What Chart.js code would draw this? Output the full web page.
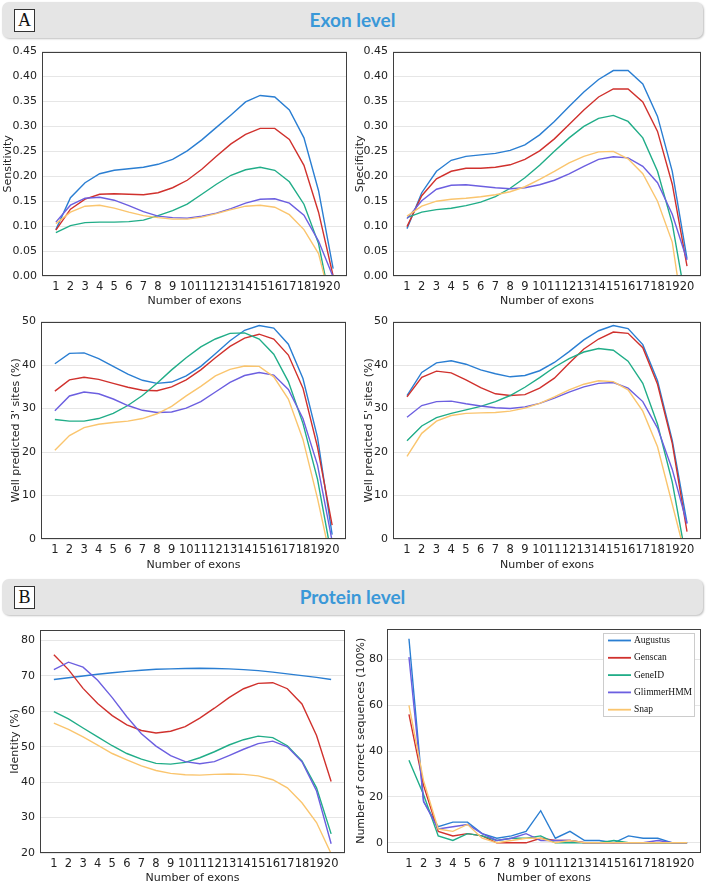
<!DOCTYPE html>
<html>
<head>
<meta charset="utf-8">
<script src="https://cdn.jsdelivr.net/npm/chart.js@4.4.1/dist/chart.umd.min.js"></script>
<style>
  html, body { margin: 0; padding: 0; background: #fff; }
  body { width: 709px; height: 886px; position: relative; overflow: hidden; }
  .banner { position: absolute; left: 2px; width: 701px; height: 36px; background: #e5e5e5;
            border-radius: 7px; box-shadow: 1px 1px 2px rgba(0,0,0,0.25); }
  .banner .tag { position: absolute; left: 12px; top: 7px; width: 19px; height: 21px; border: 1px solid #333;
                 background: #fff; font-family: 'Liberation Serif', serif; font-size: 18px; line-height: 21px;
                 text-align: center; color: #111; }
  .banner .title { position: absolute; left: 0; right: 0; top: 0; line-height: 36px; text-align: center;
                   font-family: Lato, sans-serif; font-weight: 700; font-size: 19px; color: #3a98d8; }
  canvas { position: absolute; }
</style>
</head>
<body>
<div class="banner" style="top:2px"><div class="tag">A</div><div class="title">Exon level</div></div>
<div class="banner" style="top:579px"><div class="tag">B</div><div class="title">Protein level</div></div>

<canvas id="sens" width="352" height="270" style="left:0;top:40px"></canvas>
<canvas id="spec" width="357" height="270" style="left:352px;top:40px"></canvas>
<canvas id="site3" width="352" height="265" style="left:0;top:310px"></canvas>
<canvas id="site5" width="357" height="265" style="left:352px;top:310px"></canvas>
<canvas id="ident" width="352" height="268" style="left:0;top:618px"></canvas>
<canvas id="correct" width="357" height="268" style="left:352px;top:618px"></canvas>

<script>
// ---- data ----
const exonCounts = [1,2,3,4,5,6,7,8,9,10,11,12,13,14,15,16,17,18,19,20];
const toolNames = ['Augustus', 'Genscan', 'GeneID', 'GlimmerHMM', 'Snap'];
const toolColors = ['#2a7ed2', '#d0312d', '#21ad88', '#6c5fe0', '#fac56e'];

// exon level: sensitivity
const sensAugustus = [0.093,0.157,0.187,0.205,0.212,0.215,0.218,0.224,0.234,0.251,0.273,0.298,0.323,0.349,0.362,0.359,0.333,0.277,0.171,0.015];
const sensGenscan  = [0.092,0.134,0.154,0.164,0.165,0.164,0.163,0.167,0.177,0.192,0.214,0.240,0.265,0.284,0.296,0.296,0.274,0.222,0.128,0.000];
const sensGeneID   = [0.087,0.101,0.107,0.108,0.108,0.109,0.112,0.121,0.131,0.144,0.164,0.184,0.202,0.213,0.218,0.212,0.189,0.144,0.065,-0.080];
const sensGlimmer  = [0.108,0.142,0.156,0.158,0.152,0.141,0.129,0.120,0.117,0.116,0.120,0.126,0.135,0.146,0.154,0.155,0.146,0.122,0.070,-0.002];
const sensSnap     = [0.105,0.128,0.140,0.142,0.136,0.128,0.121,0.117,0.114,0.114,0.118,0.125,0.133,0.140,0.142,0.138,0.123,0.093,0.045,-0.070];

// exon level: specificity
const specAugustus = [0.095,0.167,0.210,0.232,0.240,0.243,0.246,0.252,0.263,0.283,0.310,0.340,0.369,0.394,0.412,0.412,0.385,0.320,0.210,0.035];
const specGenscan  = [0.099,0.161,0.195,0.210,0.216,0.216,0.218,0.223,0.234,0.251,0.275,0.304,0.333,0.359,0.375,0.375,0.349,0.290,0.184,0.020];
const specGeneID   = [0.117,0.128,0.133,0.136,0.141,0.148,0.159,0.176,0.197,0.222,0.250,0.277,0.300,0.316,0.322,0.310,0.277,0.210,0.105,-0.064];
const specGlimmer  = [0.115,0.151,0.174,0.182,0.183,0.180,0.177,0.175,0.177,0.183,0.192,0.205,0.220,0.234,0.239,0.237,0.220,0.187,0.124,0.032];
const specSnap     = [0.120,0.140,0.150,0.154,0.156,0.159,0.163,0.169,0.179,0.194,0.210,0.227,0.240,0.249,0.250,0.235,0.205,0.150,0.068,-0.130];

// exon level: well predicted 3' sites (%)
const site3Augustus = [40.3,42.7,42.8,41.5,39.7,37.9,36.5,35.8,36.1,37.5,39.7,42.6,45.6,48.0,49.1,48.5,44.8,36.9,23.3,1.0];
const site3Genscan  = [34.0,36.6,37.2,36.7,35.8,34.9,34.2,34.1,35.0,36.6,38.9,41.7,44.3,46.2,47.1,46.0,42.3,34.7,21.1,3.2];
const site3GeneID   = [27.5,27.1,27.1,27.7,28.9,30.7,33.0,35.8,38.9,41.7,44.2,46.0,47.3,47.4,46.0,42.5,36.2,26.6,13.7,-4.6];
const site3Glimmer  = [29.5,32.9,33.8,33.4,32.2,30.7,29.6,29.1,29.2,30.1,31.6,33.8,36.0,37.6,38.3,37.7,34.4,27.7,17.0,-0.5];
const site3Snap     = [20.4,23.8,25.6,26.4,26.8,27.1,27.7,28.8,30.5,32.9,35.1,37.5,39.0,39.8,39.7,37.3,32.2,22.9,9.3,-6.2];

// exon level: well predicted 5' sites (%)
const site5Augustus = [33.0,38.3,40.5,41.0,40.2,38.9,38.0,37.3,37.6,38.7,40.6,43.1,45.8,47.9,49.1,48.4,44.7,36.4,22.7,3.7];
const site5Genscan  = [32.7,37.2,38.6,38.2,36.6,34.8,33.4,33.0,33.2,34.7,37.0,40.4,43.7,46.0,47.6,47.3,44.0,35.6,22.0,1.7];
const site5GeneID   = [22.6,26.0,27.9,28.9,29.7,30.5,31.6,33.0,34.9,37.1,39.5,41.5,43.0,43.8,43.4,40.9,35.8,26.4,13.1,-5.6];
const site5Glimmer  = [28.0,30.7,31.6,31.7,31.1,30.6,30.2,30.0,30.4,31.2,32.4,33.8,35.0,35.8,36.0,34.7,31.6,25.5,16.0,3.5];
const site5Snap     = [19.0,24.3,27.1,28.4,28.9,29.0,29.1,29.4,30.1,31.2,32.7,34.3,35.6,36.4,36.2,34.3,29.4,21.2,8.0,-5.3];

// protein level: identity (%)
const identAugustus = [69.0,69.5,70.0,70.5,70.9,71.3,71.6,71.9,72.0,72.1,72.2,72.1,72.0,71.8,71.5,71.1,70.6,70.1,69.6,69.0];
const identGenscan  = [76.0,71.8,66.5,62.2,58.8,56.2,54.6,53.9,54.4,55.7,58.1,60.9,63.9,66.4,67.9,68.1,66.4,62.1,53.2,40.2];
const identGeneID   = [59.9,57.9,55.3,52.8,50.3,48.1,46.5,45.3,45.1,45.6,46.9,48.6,50.5,52.0,53.0,52.6,50.3,46.0,38.4,25.4];
const identGlimmer  = [71.8,73.9,72.5,68.8,63.9,58.5,53.7,50.2,47.5,45.8,45.2,45.8,47.5,49.3,50.9,51.6,50.0,45.8,37.5,22.6];
const identSnap     = [56.7,54.9,52.8,50.5,48.1,46.3,44.6,43.3,42.5,42.1,42.0,42.2,42.3,42.2,41.8,40.7,38.4,34.2,28.6,19.8];

// protein level: number of correct sequences
const correctAugustus = [89,18,7,9,9,4,2,3,5,14,2,5,1,1,0,3,2,2,0,0];
const correctGenscan  = [56,25,5,3,4,3,0,0,0,2,1,1,0,0,0,0,0,0,0,0];
const correctGeneID   = [36,21,3,1,4,3,1,2,2,3,0,0,0,0,1,0,0,0,0,0];
const correctGlimmer  = [81,18,6,7,8,4,1,2,4,1,1,1,0,0,0,0,0,1,0,0];
const correctSnap     = [60,27,6,5,8,2,0,1,2,2,0,1,0,0,0,0,0,0,0,0];

// tick labels
const rateTicks = [0, 0.05, 0.10, 0.15, 0.20, 0.25, 0.30, 0.35, 0.40, 0.45];
const siteTicks = [0, 10, 20, 30, 40, 50];
const identTicks = [20, 30, 40, 50, 60, 70, 80];
const correctTicks = [0, 20, 40, 60, 80];

// ---- drawing ----
const FONT = 'DejaVu Sans';
const INK = '#222';

// matplotlib-style box round the axes
const framePlugin = {
  id: 'frame',
  afterDraw(chart) {
    const { ctx, chartArea: a } = chart;
    ctx.save();
    ctx.strokeStyle = '#3f3f3f';
    ctx.lineWidth = 1;
    ctx.strokeRect(Math.round(a.left) + 0.5, Math.round(a.top) + 0.5,
                   Math.round(a.right - a.left) - 1, Math.round(a.bottom - a.top) - 1);
    ctx.restore();
  }
};

// legend box in the upper right corner, built from the datasets
const cornerLegend = {
  id: 'cornerLegend',
  afterDatasetsDraw(chart) {
    const { ctx, chartArea: a } = chart;
    const w = 91, h = 83;
    const x0 = Math.round(a.right) - 7 - w, y0 = Math.round(a.top) + 4;
    ctx.save();
    ctx.fillStyle = '#fff';
    ctx.fillRect(x0, y0, w, h);
    ctx.strokeStyle = '#cccccc';
    ctx.lineWidth = 1;
    ctx.strokeRect(x0 + 0.5, y0 + 0.5, w, h);
    ctx.font = '9.5px "Liberation Serif", serif';
    ctx.textBaseline = 'middle';
    ctx.fillStyle = '#111';
    chart.data.datasets.forEach((ds, i) => {
      const y = y0 + 7.5 + i * 17.3;
      ctx.strokeStyle = ds.borderColor;
      ctx.lineWidth = 1.8;
      ctx.beginPath();
      ctx.moveTo(x0 + 5, y);
      ctx.lineTo(x0 + 28, y);
      ctx.stroke();
      ctx.fillText(ds.label, x0 + 31, y);
    });
    ctx.restore();
  }
};

function buildChart(id, cfg) {
  const datasets = cfg.series.map((vals, i) => ({
    label: toolNames[i],
    data: exonCounts.map((x, j) => ({ x, y: vals[j] })),
    borderColor: toolColors[i],
    borderWidth: 1.4,
    pointRadius: 0,
    tension: 0,
    fill: false,
    order: toolNames.length - i
  }));

  return new Chart(document.getElementById(id), {
    type: 'line',
    data: { datasets },
    options: {
      responsive: false,
      animation: false,
      layout: { padding: { top: cfg.padTop, right: cfg.padRight, bottom: 0, left: 0 } },
      plugins: { legend: { display: false }, tooltip: { enabled: false } },
      scales: {
        x: {
          type: 'linear',
          min: cfg.xMin,
          max: 20.95,
          afterBuildTicks: s => { s.ticks = exonCounts.map(v => ({ value: v })); },
          afterFit: s => { s.height = cfg.xAxisH; },
          grid: { display: false, drawTicks: false },
          border: { display: false },
          ticks: { autoSkip: false, maxRotation: 0, padding: 4, color: INK,
                   font: { family: FONT, size: 11.5 }, callback: v => String(v) },
          title: { display: true, text: 'Number of exons', color: INK,
                   font: { family: FONT, size: 11 }, padding: { top: 0, bottom: cfg.xTitlePad } }
        },
        y: {
          min: cfg.yMin,
          max: cfg.yMax,
          afterBuildTicks: s => { s.ticks = cfg.yTicks.map(v => ({ value: v })); },
          afterFit: s => { s.width = cfg.yAxisW; },
          grid: { color: '#e6e6e6', lineWidth: 1, drawTicks: false },
          border: { display: false },
          ticks: { padding: cfg.yTickPad || 5, color: INK, font: { family: FONT, size: 11 }, callback: cfg.fmt },
          title: { display: true, text: cfg.yTitle, color: INK,
                   font: { family: FONT, size: 11 }, padding: { top: cfg.yTitlePad, bottom: 0 } }
        }
      }
    },
    plugins: cfg.legend ? [framePlugin, cornerLegend] : [framePlugin]
  });
}

const twoDec = v => v.toFixed(2);
const whole = v => String(v);

buildChart('sens', {
  series: [sensAugustus, sensGenscan, sensGeneID, sensGlimmer, sensSnap],
  yMin: 0, yMax: 0.45, yTicks: rateTicks, fmt: twoDec, yTitle: 'Sensitivity',
  xMin: 0.05, padTop: 9, padRight: 5, yAxisW: 42, xAxisH: 34, xTitlePad: 2.4, yTitlePad: 1.4
});
buildChart('spec', {
  series: [specAugustus, specGenscan, specGeneID, specGlimmer, specSnap],
  yMin: 0, yMax: 0.45, yTicks: rateTicks, fmt: twoDec, yTitle: 'Specificity',
  xMin: 0.05, padTop: 9, padRight: 8, yAxisW: 41, xAxisH: 34, xTitlePad: 2.4, yTitlePad: 1.4
});
buildChart('site3', {
  series: [site3Augustus, site3Genscan, site3GeneID, site3Glimmer, site3Snap],
  yMin: 0, yMax: 50, yTicks: siteTicks, fmt: whole, yTitle: "Well predicted 3' sites (%)",
  xMin: 0.05, padTop: 3, padRight: 6, yAxisW: 41, xAxisH: 36, xTitlePad: 3.4, yTitlePad: 10
});
buildChart('site5', {
  series: [site5Augustus, site5Genscan, site5GeneID, site5Glimmer, site5Snap],
  yMin: 0, yMax: 50, yTicks: siteTicks, fmt: whole, yTitle: "Well predicted 5' sites (%)",
  xMin: 0.05, padTop: 3, padRight: 8, yAxisW: 41, xAxisH: 36, xTitlePad: 3.4, yTitlePad: 10.4
});
buildChart('ident', {
  series: [identAugustus, identGenscan, identGeneID, identGlimmer, identSnap],
  yMin: 20, yMax: 83.1, yTicks: identTicks, fmt: whole, yTitle: 'Identity (%)',
  xMin: 0.05, padTop: 8, padRight: 7, yAxisW: 40, xAxisH: 33, xTitlePad: 1.4, yTitlePad: 8.4
});
buildChart('correct', {
  series: [correctAugustus, correctGenscan, correctGeneID, correctGlimmer, correctSnap],
  yMin: -4.45, yMax: 93.45, yTicks: correctTicks, fmt: whole, yTitle: 'Number of correct sequences (100%)',
  xMin: -0.5, padTop: 8, padRight: 8, yAxisW: 35, xAxisH: 33, xTitlePad: 1.4, yTitlePad: 2.6, yTickPad: 4,
  legend: true
});
</script>
</body>
</html>
